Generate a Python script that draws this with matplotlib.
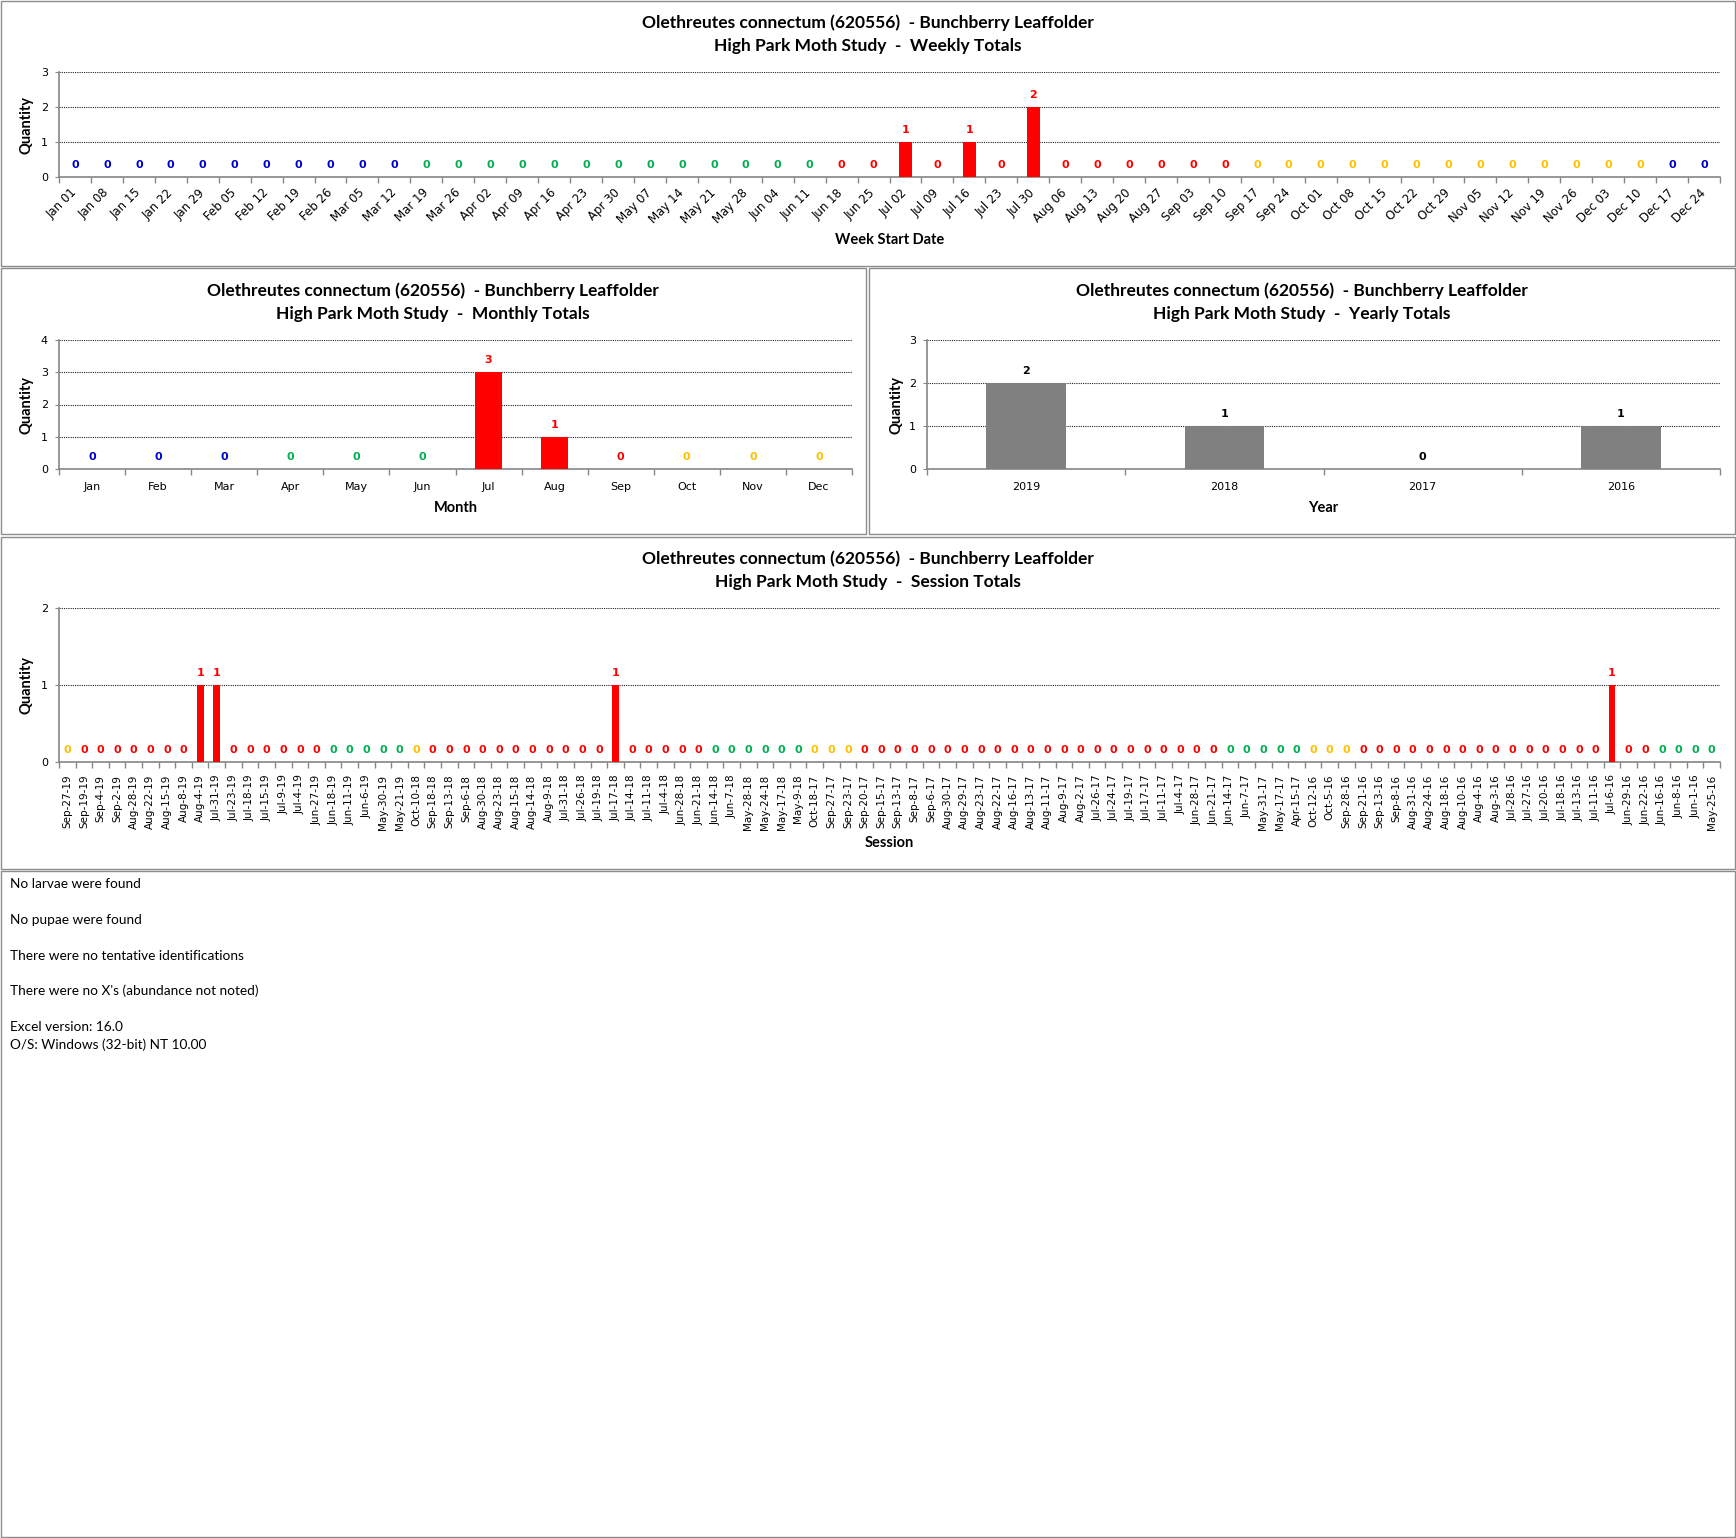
import matplotlib
matplotlib.use('Agg')
import matplotlib.pyplot as plt
import matplotlib.transforms as mtransforms
from matplotlib.patches import Rectangle
import numpy as np
from datetime import datetime, timedelta

# ---------------- data ----------------
species_title = "Olethreutes connectum (620556)  - Bunchberry Leaffolder"

week_labels = ["Jan 01", "Jan 08", "Jan 15", "Jan 22", "Jan 29",
               "Feb 05", "Feb 12", "Feb 19", "Feb 26",
               "Mar 05", "Mar 12", "Mar 19", "Mar 26",
               "Apr 02", "Apr 09", "Apr 16", "Apr 23", "Apr 30",
               "May 07", "May 14", "May 21", "May 28",
               "Jun 04", "Jun 11", "Jun 18", "Jun 25",
               "Jul 02", "Jul 09", "Jul 16", "Jul 23", "Jul 30",
               "Aug 06", "Aug 13", "Aug 20", "Aug 27",
               "Sep 03", "Sep 10", "Sep 17", "Sep 24",
               "Oct 01", "Oct 08", "Oct 15", "Oct 22", "Oct 29",
               "Nov 05", "Nov 12", "Nov 19", "Nov 26",
               "Dec 03", "Dec 10", "Dec 17", "Dec 24"]
week_values = [0, 0, 0, 0, 0, 0, 0, 0, 0, 0, 0, 0, 0,
               0, 0, 0, 0, 0, 0, 0, 0, 0, 0, 0, 0, 0,
               1, 0, 1, 0, 2, 0, 0, 0, 0, 0, 0, 0, 0,
               0, 0, 0, 0, 0, 0, 0, 0, 0, 0, 0, 0, 0]

month_labels = ["Jan", "Feb", "Mar", "Apr", "May", "Jun",
                "Jul", "Aug", "Sep", "Oct", "Nov", "Dec"]
month_values = [0, 0, 0, 0, 0, 0, 3, 1, 0, 0, 0, 0]

year_labels = ["2019", "2018", "2017", "2016"]
year_values = [2, 1, 0, 1]

session_labels = [
    "Sep-27-19", "Sep-19-19", "Sep-4-19", "Sep-2-19", "Aug-28-19", "Aug-22-19",
    "Aug-15-19", "Aug-8-19", "Aug-4-19", "Jul-31-19", "Jul-23-19", "Jul-18-19",
    "Jul-15-19", "Jul-9-19", "Jul-4-19", "Jun-27-19", "Jun-18-19", "Jun-11-19",
    "Jun-6-19", "May-30-19", "May-21-19", "Oct-10-18", "Sep-18-18", "Sep-13-18",
    "Sep-6-18", "Aug-30-18", "Aug-23-18", "Aug-15-18", "Aug-14-18", "Aug-9-18",
    "Jul-31-18", "Jul-26-18", "Jul-19-18", "Jul-17-18", "Jul-14-18", "Jul-11-18",
    "Jul-4-18", "Jun-28-18", "Jun-21-18", "Jun-14-18", "Jun-7-18", "May-28-18",
    "May-24-18", "May-17-18", "May-9-18", "Oct-18-17", "Sep-27-17", "Sep-23-17",
    "Sep-20-17", "Sep-15-17", "Sep-13-17", "Sep-8-17", "Sep-6-17", "Aug-30-17",
    "Aug-29-17", "Aug-23-17", "Aug-22-17", "Aug-16-17", "Aug-13-17", "Aug-11-17",
    "Aug-9-17", "Aug-2-17", "Jul-26-17", "Jul-24-17", "Jul-19-17", "Jul-17-17",
    "Jul-11-17", "Jul-4-17", "Jun-28-17", "Jun-21-17", "Jun-14-17", "Jun-7-17",
    "May-31-17", "May-17-17", "Apr-15-17", "Oct-12-16", "Oct-5-16", "Sep-28-16",
    "Sep-21-16", "Sep-13-16", "Sep-8-16", "Aug-31-16", "Aug-24-16", "Aug-18-16",
    "Aug-10-16", "Aug-4-16", "Aug-3-16", "Jul-28-16", "Jul-27-16", "Jul-20-16",
    "Jul-18-16", "Jul-13-16", "Jul-11-16", "Jul-6-16", "Jun-29-16", "Jun-22-16",
    "Jun-16-16", "Jun-8-16", "Jun-1-16", "May-25-16"]
session_values = [
    0, 0, 0, 0, 0, 0, 0, 0, 1, 1, 0, 0, 0, 0, 0, 0, 0, 0, 0, 0,
    0, 0, 0, 0, 0, 0, 0, 0, 0, 0, 0, 0, 0, 1, 0, 0, 0, 0, 0, 0,
    0, 0, 0, 0, 0, 0, 0, 0, 0, 0, 0, 0, 0, 0, 0, 0, 0, 0, 0, 0,
    0, 0, 0, 0, 0, 0, 0, 0, 0, 0, 0, 0, 0, 0, 0, 0, 0, 0, 0, 0,
    0, 0, 0, 0, 0, 0, 0, 0, 0, 0, 0, 0, 0, 1, 0, 0, 0, 0, 0, 0]

notes = ["No larvae were found",
         "No pupae were found",
         "There were no tentative identifications",
         "There were no X's (abundance not noted)",
         "Excel version: 16.0",
         "O/S: Windows (32-bit) NT 10.00"]

# ---------------- style ----------------
BLUE, GREEN, RED, YELLOW = '#0000CC', '#00B050', '#FF0000', '#FFC000'
GRAY_BAR = '#808080'
AX_GRAY = '#868686'
TITLE_FONT = ['Lato', 'DejaVu Sans']
TICK_FONT = ['DejaVu Sans']


def season_color(d):
    md = (d.month, d.day)
    if md >= (12, 21) or md < (3, 20):
        return BLUE
    if md < (6, 21):
        return GREEN
    if md < (9, 22):
        return RED
    return YELLOW


week_colors = [season_color(datetime.strptime(w + " 2018", "%b %d %Y") + timedelta(days=6))
               for w in week_labels]
month_colors = [season_color(datetime(2018, i + 1, 15)) for i in range(12)]
session_colors = [season_color(datetime.strptime(s, "%b-%d-%y")) for s in session_labels]

W, H = 1736, 1538
fig = plt.figure(figsize=(W / 100, H / 100), dpi=100)


def frect(x0, y0, x1, y1):
    return [x0 / W, 1 - y1 / H, (x1 - x0) / W, (y1 - y0) / H]


def fx(x):
    return x / W


def fy(y):
    return 1 - y / H


# panel borders
for (x0, y0, x1, y1) in [(1, 1, 1735, 266), (1, 268, 866, 534), (869, 268, 1735, 534),
                         (1, 537, 1735, 869), (1, 871, 1735, 1537)]:
    fig.add_artist(Rectangle((fx(x0), fy(y1)), (x1 - x0) / W, (y1 - y0) / H,
                             transform=fig.transFigure, fill=False,
                             edgecolor='#8c8c8c', lw=1.0))


def titles(cx, y1, y2, subtitle):
    fig.text(fx(cx), fy(y1), species_title, ha='center', va='center',
             fontsize=12.5, fontweight='bold', family=TITLE_FONT)
    fig.text(fx(cx), fy(y2), "High Park Moth Study  -  " + subtitle, ha='center',
             va='center', fontsize=12.5, fontweight='bold', family=TITLE_FONT)


def make_axes(box, labels, values, colors, ymax, bar_color=None, label_color=None,
              rot=0, xlabel="", xlabel_y=0, tick_fs=8, pad=8, ylabel_x=27):
    ax = fig.add_axes(frect(*box))
    n = len(labels)
    x = np.arange(n)
    bc = colors if bar_color is None else [bar_color] * n
    ax.bar(x, values, width=0.4, color=bc, zorder=3)
    ax.set_xlim(-0.5, n - 0.5)
    ax.set_ylim(0, ymax)
    ax.set_yticks(range(ymax + 1))
    ax.yaxis.grid(True, linestyle=(0, (1, 1)), color='#202020', lw=0.8, zorder=0)
    for s in ['top', 'right']:
        ax.spines[s].set_visible(False)
    for s in ['left', 'bottom']:
        ax.spines[s].set_color(AX_GRAY)
        ax.spines[s].set_linewidth(1.2)
    ax.set_xticks(x)
    if rot == 45:
        ax.set_xticklabels(labels, rotation=45, ha='right', va='center',
                           rotation_mode='anchor', fontsize=tick_fs, family=TICK_FONT)
        shift = mtransforms.ScaledTranslation(4 / 100, 0, fig.dpi_scale_trans)
        for t in ax.get_xticklabels():
            t.set_transform(t.get_transform() + shift)
    elif rot == 90:
        ax.set_xticklabels(labels, rotation=90, ha='center', va='top',
                           fontsize=tick_fs, family=TICK_FONT)
    else:
        ax.set_xticklabels(labels, fontsize=tick_fs, family=TICK_FONT)
    ax.set_xticks(np.arange(-0.5, n, 1.0), minor=True)
    ax.tick_params(axis='x', which='major', length=0, pad=pad)
    ax.tick_params(axis='x', which='minor', length=4, color=AX_GRAY, width=1)
    ax.tick_params(axis='y', length=3, color=AX_GRAY, labelsize=8, pad=5)
    for t in ax.get_yticklabels():
        t.set_family(TICK_FONT)
    for i, v in enumerate(values):
        lc = colors[i] if label_color is None else label_color
        ax.annotate(str(v), (i, v), xytext=(0, 8.5), textcoords='offset points',
                    ha='center', va='center', color=lc, fontsize=8,
                    fontweight='bold', family=TICK_FONT, zorder=4)
    x0, y0, x1, y1 = box
    fig.text(fx(ylabel_x), fy((y0 + y1) / 2), "Quantity", rotation=90, ha='center',
             va='center', fontsize=10.5, fontweight='bold', family=TITLE_FONT)
    fig.text(fx((x0 + x1) / 2), fy(xlabel_y), xlabel, ha='center', va='center',
             fontsize=10.5, fontweight='bold', family=TITLE_FONT)
    return ax


# Weekly
titles(868, 23, 46, "Weekly Totals")
make_axes((59, 72, 1720, 177), week_labels, week_values, week_colors, 3,
          rot=45, xlabel="Week Start Date", xlabel_y=240, tick_fs=8.5, pad=10)

# Monthly
titles(433, 291, 314, "Monthly Totals")
make_axes((59, 340, 852, 469), month_labels, month_values, month_colors, 4,
          rot=0, xlabel="Month", xlabel_y=508, tick_fs=8, pad=9)

# Yearly
titles(1302, 291, 314, "Yearly Totals")
make_axes((927, 340, 1720, 469), year_labels, year_values, ['black'] * 4, 3,
          bar_color=GRAY_BAR, label_color='black', rot=0, xlabel="Year",
          xlabel_y=508, tick_fs=8, pad=9, ylabel_x=896)

# Sessions
titles(868, 559, 582, "Session Totals")
make_axes((59, 608, 1720, 762), session_labels, session_values, session_colors, 2,
          rot=90, xlabel="Session", xlabel_y=843, tick_fs=7.5, pad=9)

# Notes
for txt, y in zip(notes, [884, 920, 956, 991, 1027, 1045]):
    fig.text(fx(10), fy(y), txt, ha='left', va='center', fontsize=9.8,
             family=TITLE_FONT)

fig.savefig("out.png", dpi=100)
